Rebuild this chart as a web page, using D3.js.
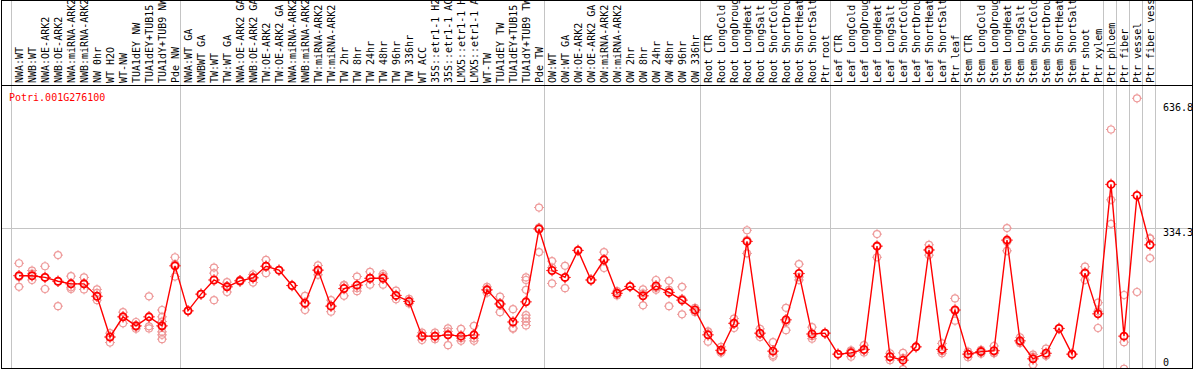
<!DOCTYPE html>
<html>
<head>
<meta charset="UTF-8">
<script src="https://d3js.org/d3.v7.min.js"></script>
<style>
  body { margin: 0; background: #fff; }
  text { font-family: "DejaVu Sans Mono", monospace; font-size: 10px; }
</style>
</head>
<body>
<script>
var width = 1194, height = 370;

var gene = 'Potri.001G276100';

var labels = [
  'NWA:WT', 'NWB:WT', 'NWA:OE-ARK2', 'NWB:OE-ARK2', 'NWA:miRNA-ARK2', 'NWB:miRNA-ARK2',
  'NW 0hr', 'WT H2O', 'WT-NW', 'TUA1dEY NW', 'TUA1dEY+TUB15 NW', 'TUA1dY+TUB9 NW', 'Pde NW',
  'NWA:WT GA', 'NWBWT GA', 'TW:WT', 'TW:WT GA', 'NWA:OE-ARK2 GA', 'NWB:OE-ARK2 GA',
  'TW:OE-ARK2', 'TW:OE-ARK2 GA', 'NWA:miRNA-ARK2 GA', 'NWB:miRNA-ARK2 GA', 'TW:miRNA-ARK2',
  'TW:miRNA-ARK2 GA', 'TW 2hr', 'TW 8hr', 'TW 24hr', 'TW 48hr', 'TW 96hr', 'TW 336hr',
  'WT ACC', '35S::etr1-1 H2O', '35S::etr1-1 ACC', 'LMX5::etr1-1 H2O', 'LMX5::etr1-1 ACC',
  'WT-TW', 'TUA1dEY TW', 'TUA1dEY+TUB15 TW', 'TUA1dY+TUB9 TW', 'Pde TW',
  'OW:WT', 'OW:WT GA', 'OW:OE-ARK2', 'OW:OE-ARK2 GA', 'OW:miRNA-ARK2', 'OW:miRNA-ARK2 GA',
  'OW 2hr', 'OW 8hr', 'OW 24hr', 'OW 48hr', 'OW 96hr', 'OW 336hr',
  'Root CTR', 'Root LongCold', 'Root LongDrought', 'Root LongHeat', 'Root LongSalt',
  'Root ShortCold', 'Root ShortDrought', 'Root ShortHeat', 'Root ShortSalt', 'Ptr root',
  'Leaf CTR', 'Leaf LongCold', 'Leaf LongDrought', 'Leaf LongHeat', 'Leaf LongSalt',
  'Leaf ShortCold', 'Leaf ShortDrought', 'Leaf ShortHeat', 'Leaf ShortSalt', 'Ptr leaf',
  'Stem CTR', 'Stem LongCold', 'Stem LongDrought', 'Stem LongHeat', 'Stem LongSalt',
  'Stem ShortCold', 'Stem ShortDrought', 'Stem ShortHeat', 'Stem ShortSalt', 'Ptr shoot',
  'Ptr xylem', 'Ptr phloem', 'Ptr fiber', 'Ptr vessel', 'Ptr fiber vessel'
];

// mean expression per sample
var means = [
  223, 223, 219, 210, 204, 204, 175, 80, 127, 106, 127, 106, 246,
  141, 180, 213, 197, 211, 218, 245, 236, 200, 159, 236, 152, 193, 201, 217, 217, 177, 163,
  82, 82, 85, 82, 85, 190, 157, 115, 162, 332,
  235, 219, 282, 213, 260, 182, 198, 176, 199, 184, 166, 143,
  85, 49, 112, 303, 89, 47, 120, 228, 87, 89,
  40, 43, 51, 292, 34, 26, 57, 283, 51, 143,
  40, 46, 48, 306, 71, 29, 42, 100, 40, 229,
  134, 436, 82, 410, 295
];

// replicate values per sample
var reps = [
  [252, 220, 197], [235, 228, 213], [245, 220, 192], [271, 209, 152], [222, 196, 192],
  [219, 204, 191], [191, 183, 166], [89, 80, 67], [138, 127, 112], [115, 104, 99],
  [175, 105, 100], [143, 127, 116, 104, 92, 85, 75], [266, 250, 221],
  [141], [180], [242, 229, 166], [208, 199, 185], [213, 210, 209], [226, 220, 207],
  [260, 246, 229], [236], [200], [176, 157, 143], [247, 236, 225], [166, 152, 139],
  [201, 201, 176], [221, 194, 187], [232, 217, 202], [227, 222, 202], [188, 176, 168],
  [169, 163, 158], [90, 84, 73], [90, 82, 75], [100, 93, 61], [99, 77, 71], [106, 77, 71],
  [197, 189, 183], [174, 159, 138], [145, 101, 99], [219, 213, 190, 131, 124, 116, 107],
  [382, 335, 278],
  [257, 242, 205], [246, 218, 194], [282], [213], [278, 260, 241], [187, 182, 177], [198],
  [191, 182, 154], [213, 195, 190], [211, 190, 152], [197, 169, 133], [148, 143, 138],
  [92, 93, 69], [57, 47, 43], [123, 112, 101], [329, 306, 275], [99, 87, 80], [68, 38, 34],
  [148, 115, 96], [250, 220, 213], [103, 82, 76], [89],
  [40], [49, 47, 34], [61, 49, 44], [320, 291, 266], [42, 34, 26], [43, 31, 5], [57],
  [295, 283, 271], [65, 47, 42], [170, 141, 118],
  [40, 46, 33], [46, 50, 41], [59, 43, 42], [334, 302, 281], [79, 67, 66], [39, 34, 15],
  [53, 37, 36], [100], [40], [244, 231, 213],
  [160, 140, 101], [564, 400, 344], [178, 68, 6], [636.8, 185], [310, 310, 264]
];

// first sample index of each block (last entry closes the final block)
var groupStarts = [0, 13, 41, 53, 63, 73, 84, 85, 86, 87, 88];
var yTicks = [0, 334.3, 636.8];

var svg = d3.select('body').append('svg')
  .attr('width', width).attr('height', height);

var x = d3.scaleLinear().domain([0, labels.length - 1]).range([19, 1150]);
var y = d3.scaleLinear().domain([0, 636.8]).range([371.3, 98.3]);

svg.append('clipPath').attr('id', 'plotclip')
  .append('rect').attr('x', 2).attr('y', 86).attr('width', 1190).attr('height', 282);

// group separators
svg.selectAll('line.sep')
  .data(groupStarts)
  .join('line')
  .attr('class', 'sep')
  .attr('x1', function(d) { return Math.round(x(d) - 8) + 0.5; })
  .attr('x2', function(d) { return Math.round(x(d) - 8) + 0.5; })
  .attr('y1', 0).attr('y2', 369)
  .attr('stroke', '#c4c4c4').attr('stroke-width', 1);

// middle gridline
svg.append('line')
  .attr('x1', 2).attr('x2', 1192)
  .attr('y1', Math.round(y(334.3)) + 0.5).attr('y2', Math.round(y(334.3)) + 0.5)
  .attr('stroke', '#c4c4c4');

// sample labels, rotated
svg.append('g')
  .attr('clip-path', null)
  .selectAll('text')
  .data(labels)
  .join('text')
  .attr('transform', function(d, i) { return 'translate(' + (x(i) + 4) + ',83) rotate(-90)'; })
  .attr('fill', '#000')
  .text(function(d) { return d; });

// right value labels
svg.selectAll('text.ytick')
  .data(yTicks)
  .join('text')
  .attr('class', 'ytick')
  .attr('x', 1163)
  .attr('y', function(d) { return Math.min(Math.max(y(d) + 8, 111), 366); })
  .attr('fill', '#000')
  .text(function(d) { return d; });

// gene name
svg.append('text')
  .attr('x', 9).attr('y', 101)
  .attr('fill', '#ff0000')
  .text(gene);

var plot = svg.append('g').attr('clip-path', 'url(#plotclip)');

function nubs(cx, cy, r) {
  return 'M' + (cx - r - 1.5) + ',' + cy + 'h1.5' +
         'M' + (cx + r) + ',' + cy + 'h1.5' +
         'M' + cx + ',' + (cy - r - 1.5) + 'v1.5' +
         'M' + cx + ',' + (cy + r) + 'v1.5';
}

var repPts = [];
reps.forEach(function(list, i) {
  list.forEach(function(v) { repPts.push({i: i, v: v}); });
});

plot.selectAll('circle.rep')
  .data(repPts)
  .join('circle')
  .attr('class', 'rep')
  .attr('cx', function(d) { return x(d.i); })
  .attr('cy', function(d) { return y(d.v); })
  .attr('r', 3.5)
  .attr('fill', 'none')
  .attr('stroke', '#ee9a9a').attr('stroke-width', 1.2);

plot.selectAll('path.repnub')
  .data(repPts)
  .join('path')
  .attr('class', 'repnub')
  .attr('d', function(d) { return nubs(x(d.i), y(d.v), 3.5); })
  .attr('stroke', '#ee9a9a').attr('stroke-width', 1);

var line = d3.line()
  .x(function(d, i) { return x(i); })
  .y(function(d) { return y(d); });

plot.append('path')
  .datum(means)
  .attr('d', line)
  .attr('fill', 'none')
  .attr('stroke', '#ff0000').attr('stroke-width', 1.4);

plot.selectAll('circle.mean')
  .data(means)
  .join('circle')
  .attr('class', 'mean')
  .attr('cx', function(d, i) { return x(i); })
  .attr('cy', function(d) { return y(d); })
  .attr('r', 3.6)
  .attr('fill', 'none')
  .attr('stroke', '#ff0000').attr('stroke-width', 1.8);

plot.selectAll('path.meannub')
  .data(means)
  .join('path')
  .attr('class', 'meannub')
  .attr('d', function(d, i) { return nubs(x(i), y(d), 4.2); })
  .attr('stroke', '#ff0000').attr('stroke-width', 1);

// frame
svg.append('line')
  .attr('x1', 1).attr('x2', 1193).attr('y1', 85.5).attr('y2', 85.5)
  .attr('stroke', '#000');
svg.append('rect')
  .attr('x', 1.5).attr('y', 0.5).attr('width', 1191).attr('height', 368)
  .attr('fill', 'none').attr('stroke', '#000');
</script>
</body>
</html>
